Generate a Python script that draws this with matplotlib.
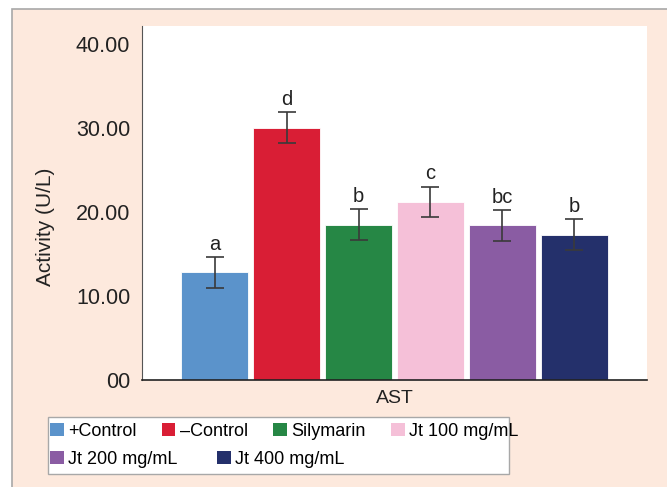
import matplotlib.pyplot as plt
from matplotlib.patches import Rectangle, Patch

plt.rcParams['font.family'] = ['Liberation Sans', 'DejaVu Sans']

# datos
groups = ['+Control', '\u2013Control', 'Silymarin', 'Jt 100 mg/mL', 'Jt 200 mg/mL', 'Jt 400 mg/mL']
values = [12.8, 30.0, 18.45, 21.2, 18.4, 17.3]
errors = [1.83, 1.83, 1.83, 1.8, 1.83, 1.83]
letters = ['a', 'd', 'b', 'c', 'bc', 'b']
colors = ['#5B93CB', '#D91E35', '#268745', '#F5C0D8', '#8A5CA3', '#24306B']
yticks = [0, 10, 20, 30, 40]
ytick_labels = ['00', '10.00', '20.00', '30.00', '40.00']

fig = plt.figure(figsize=(6.67, 4.87), dpi=100, facecolor='white')
# fondo durazno con borde gris
fig.patches.append(Rectangle((12/667, -0.02), 1.1, 1 - 9/487 + 0.02, transform=fig.transFigure,
                             facecolor='#FDE9DD', edgecolor='#A8A8A8', linewidth=1.2, zorder=-10))

ax = fig.add_axes([142/667, 1 - 380/487, 505/667, 354/487])
ax.set_facecolor('white')
x = list(range(len(values)))
ax.bar(x, values, width=0.944, color=colors, edgecolor='white', linewidth=0.6, zorder=2)
ax.errorbar(x, values, yerr=errors, fmt='none', ecolor='#3a3a3a', elinewidth=1.2,
            capsize=6.8, capthick=1.2, zorder=3)
for xi, v, e, l in zip(x, values, errors, letters):
    ax.text(xi, v + e + 0.4, l, ha='center', va='bottom', fontsize=14.5, color='#222222')

ax.set_xlim(-1.007, 6.007)
ax.set_ylim(0, 42.1)
ax.set_yticks(yticks)
ax.set_yticklabels(ytick_labels, fontsize=15.5, color='#222222')
ax.set_xticks([])
ax.tick_params(axis='y', length=0, pad=8.5)
for s in ['top', 'right']:
    ax.spines[s].set_visible(False)
ax.spines['left'].set_color('#555555')
ax.spines['bottom'].set_color('#222222')
ax.spines['bottom'].set_linewidth(1.2)
ax.set_ylabel('Activity (U/L)', fontsize=15, color='#222222')
ax.yaxis.set_label_coords(-(142 - 55) / 505, 0.432)
ax.set_xlabel('AST', fontsize=14, color='#222222', labelpad=7)

# leyenda en dos filas
handles = [Patch(facecolor=c, edgecolor='none') for c in colors]
fig.patches.append(Rectangle((48/667, 1 - 474/487), 461/667, 57/487, transform=fig.transFigure,
                             facecolor='white', edgecolor='#A8A8A8', linewidth=1.0, zorder=1))
leg1 = fig.legend(handles[:4], groups[:4], loc='center left', bbox_to_anchor=(50/667, 1 - 431/487),
                  ncol=4, frameon=False, fontsize=13, handlelength=0.75, handleheight=0.75,
                  handletextpad=0.25, columnspacing=1.4, borderpad=0, borderaxespad=0)
leg2 = fig.legend(handles[4:], groups[4:], loc='center left', bbox_to_anchor=(50/667, 1 - 459/487),
                  ncol=2, frameon=False, fontsize=13, handlelength=0.75, handleheight=0.75,
                  handletextpad=0.25, columnspacing=2.2, borderpad=0, borderaxespad=0)

fig.savefig('out.png', dpi=100)
